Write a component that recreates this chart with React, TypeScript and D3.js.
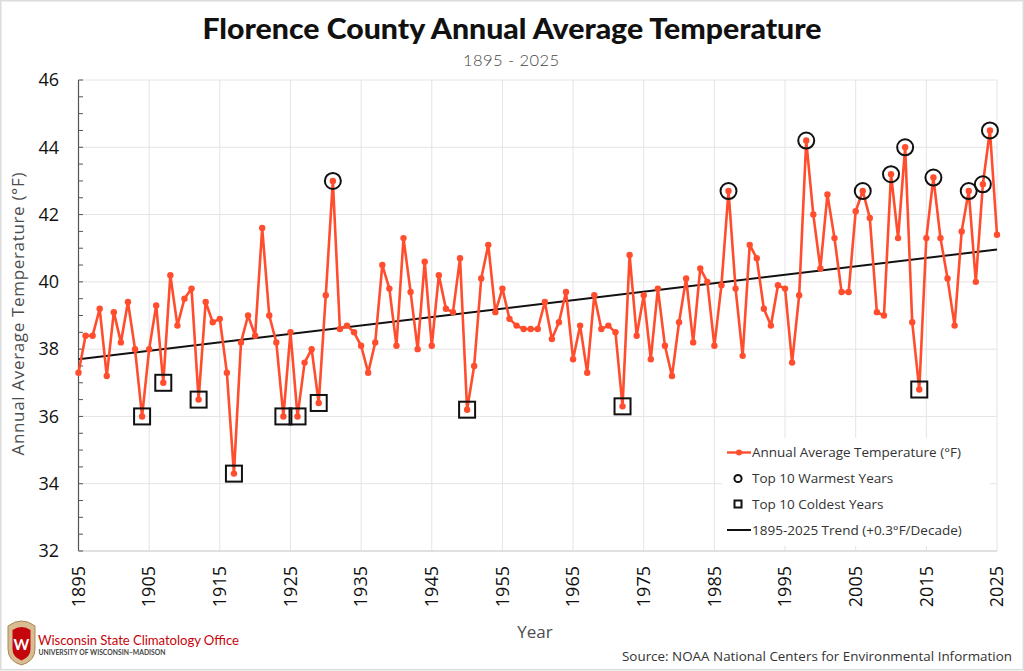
import React, { useEffect } from "react";
import * as d3 from "d3";

const startYear = 1895;
const temps: number[] = [
  37.3, 38.4, 38.4, 39.2, 37.2, 39.1, 38.2, 39.4, 38.0, 36.0,
  38.0, 39.3, 37.0, 40.2, 38.7, 39.5, 39.8, 36.5, 39.4, 38.8,
  38.9, 37.3, 34.3, 38.2, 39.0, 38.4, 41.6, 39.0, 38.2, 36.0,
  38.5, 36.0, 37.6, 38.0, 36.4, 39.6, 43.0, 38.6, 38.7, 38.5,
  38.1, 37.3, 38.2, 40.5, 39.8, 38.1, 41.3, 39.7, 38.0, 40.6,
  38.1, 40.2, 39.2, 39.1, 40.7, 36.2, 37.5, 40.1, 41.1, 39.1,
  39.8, 38.9, 38.7, 38.6, 38.6, 38.6, 39.4, 38.3, 38.8, 39.7,
  37.7, 38.7, 37.3, 39.6, 38.6, 38.7, 38.5, 36.3, 40.8, 38.4,
  39.6, 37.7, 39.8, 38.1, 37.2, 38.8, 40.1, 38.2, 40.4, 40.0,
  38.1, 39.9, 42.7, 39.8, 37.8, 41.1, 40.7, 39.2, 38.7, 39.9,
  39.8, 37.6, 39.6, 44.2, 42.0, 40.4, 42.6, 41.3, 39.7, 39.7,
  42.1, 42.7, 41.9, 39.1, 39.0, 43.2, 41.3, 44.0, 38.8, 36.8,
  41.3, 43.1, 41.3, 40.1, 38.7, 41.5, 42.7, 40.0, 42.9, 44.5,
  41.4,
];
const warmestYears = [1931, 1987, 1998, 2006, 2010, 2012, 2016, 2021, 2023, 2024];
const coldestYears = [1904, 1907, 1912, 1917, 1924, 1926, 1929, 1950, 1972, 2014];
const xTicks = [1895, 1905, 1915, 1925, 1935, 1945, 1955, 1965, 1975, 1985, 1995, 2005, 2015, 2025];
const yTicks = [32, 34, 36, 38, 40, 42, 44, 46];
const legendLabels = [
  "Annual Average Temperature (°F)",
  "Top 10 Warmest Years",
  "Top 10 Coldest Years",
  "1895-2025 Trend (+0.3°F/Decade)",
];

const W = 1024;
const H = 671;
const LINE = "#ff4d2e";
const FONT = "'Open Sans', 'Noto Sans', sans-serif";

export default function App() {
  useEffect(() => {
    document.body.style.margin = "0";
  }, []);

  const data = temps.map((t, i) => ({ year: startYear + i, t }));
  const x = d3.scaleLinear().domain([1895, 2025]).range([78.5, 997]);
  const y = d3.scaleLinear().domain([32, 46]).range([551, 80]);

  // linear regression
  const mx = d3.mean(data, (d) => d.year)!;
  const my = d3.mean(data, (d) => d.t)!;
  const sxy = d3.sum(data, (d) => (d.year - mx) * (d.t - my));
  const sxx = d3.sum(data, (d) => (d.year - mx) ** 2);
  const slope = sxy / sxx;
  const icpt = my - slope * mx;
  const trend = [1895, 2025].map((yr) => ({ year: yr, t: icpt + slope * yr }));

  const line = d3
    .line<{ year: number; t: number }>()
    .x((d) => x(d.year))
    .y((d) => y(d.t));

  const minorTicks = d3.range(32, 46.01, 0.5);
  const byYear = new Map(data.map((d) => [d.year, d.t]));

  const lx = 727;
  const ly = [452.5, 478.5, 504, 530];

  return (
    <svg width={W} height={H} style={{ display: "block", background: "#fff" }} fontFamily={FONT}>
      <rect x={0.75} y={0.75} width={W - 1.5} height={H - 2} fill="#fff" stroke="#dcdcdc" strokeWidth={1.5} />
      {/* Title */}
      <text x={512} y={39} textAnchor="middle" fontSize={29} fontWeight={900} fill="#111" fontFamily="Lato, 'Open Sans', sans-serif" textLength={619} lengthAdjust="spacingAndGlyphs">
        Florence County Annual Average Temperature
      </text>
      <text x={511} y={66} textAnchor="middle" fontSize={16.5} fontWeight={300} fill="#444" fontFamily="Lato, sans-serif" textLength={96}>
        1895 - 2025
      </text>

      {/* grid */}
      {yTicks.map((v) => (
        <line key={"gy" + v} x1={x(1895)} x2={x(2025)} y1={y(v)} y2={y(v)} stroke="#e4e4e4" strokeWidth={1} />
      ))}
      {xTicks.map((v) => (
        <line key={"gx" + v} x1={x(v)} x2={x(v)} y1={y(32)} y2={y(46)} stroke="#e4e4e4" strokeWidth={1} />
      ))}

      {/* axes */}
      <line x1={x(1895)} x2={x(1895)} y1={y(32)} y2={y(46)} stroke="#555" strokeWidth={1.2} />
      <line x1={x(1895)} x2={x(2025)} y1={y(32)} y2={y(32)} stroke="#cfcfcf" strokeWidth={1} />
      {minorTicks.map((v) => (
        <line key={"mt" + v} x1={x(1895)} x2={x(1895) + 4.5} y1={y(v)} y2={y(v)} stroke="#555" strokeWidth={1} />
      ))}
      {yTicks.map((v) => (
        <text key={"yl" + v} x={59} y={y(v)} dy="0.35em" textAnchor="end" fontSize={18} fill="#111">
          {v}
        </text>
      ))}
      {xTicks.map((v) => (
        <text
          key={"xl" + v}
          transform={`translate(${x(v)},566) rotate(-90)`}
          textAnchor="end"
          dy="0.35em"
          fontSize={18}
          fill="#111"
        >
          {v}
        </text>
      ))}
      <text transform={`translate(24,314) rotate(-90)`} textAnchor="middle" fontSize={17} fill="#4d4d4d" fontWeight={400} textLength={283}>
        Annual Average Temperature (°F)
      </text>
      <text x={535} y={638} textAnchor="middle" fontSize={17} fill="#4d4d4d">
        Year
      </text>

      {/* trend */}
      <path d={line(trend)!} fill="none" stroke="#111" strokeWidth={2} />
      {/* series */}
      <path d={line(data)!} fill="none" stroke={LINE} strokeWidth={2.6} strokeLinejoin="round" />
      {data.map((d) => (
        <circle key={"p" + d.year} cx={x(d.year)} cy={y(d.t)} r={3.2} fill={LINE} />
      ))}
      {warmestYears.map((yr) => (
        <circle key={"w" + yr} cx={x(yr)} cy={y(byYear.get(yr)!)} r={8} fill="none" stroke="#111" strokeWidth={2} />
      ))}
      {coldestYears.map((yr) => (
        <rect key={"c" + yr} x={x(yr) - 8} y={y(byYear.get(yr)!) - 8} width={16} height={16} fill="none" stroke="#111" strokeWidth={2} />
      ))}

      {/* legend */}
      <rect x={722} y={438} width={268} height={108} fill="#fff" />
      <line x1={lx} x2={lx + 24} y1={ly[0]} y2={ly[0]} stroke={LINE} strokeWidth={2.4} />
      <circle cx={lx + 12} cy={ly[0]} r={3} fill={LINE} />
      <circle cx={lx + 11} cy={ly[1]} r={3.6} fill="none" stroke="#111" strokeWidth={2} />
      <rect x={lx + 7.5} y={ly[2] - 3.5} width={7} height={7} fill="none" stroke="#111" strokeWidth={2} />
      <line x1={lx} x2={lx + 24} y1={ly[3]} y2={ly[3]} stroke="#111" strokeWidth={2} />
      {legendLabels.map((s, i) => (
        <text key={s} x={752} y={ly[i]} dy="0.35em" fontSize={13.5} fill="#333">
          {s}
        </text>
      ))}

      {/* logo */}
      <g transform="translate(7,619)">
        <path d="M1,7 Q14.5,-3 28,7 L28,30 Q28,42 14.5,46 Q1,42 1,30 Z" fill="#d9bd92" stroke="#a88757" strokeWidth={1} />
        <path d="M5.5,11 Q14.5,5 23.5,11 L23.5,30 Q23.5,38 14.5,41.5 Q5.5,38 5.5,30 Z" fill="#c5050c" />
        <text x={14.5} y={31} textAnchor="middle" fontSize={15} fontWeight={700} fill="#fff" fontFamily="Lato, sans-serif">
          W
        </text>
      </g>
      <text x={38} y={645} fontSize={13.2} fill="#c5050c" fontFamily="Lato, sans-serif" textLength={201}>
        Wisconsin State Climatology Office
      </text>
      <text x={38.5} y={655} fontSize={7.6} fill="#444" fontFamily="Lato, sans-serif" fontWeight={700} textLength={127} lengthAdjust="spacingAndGlyphs">
        UNIVERSITY OF WISCONSIN–MADISON
      </text>
      <text x={1012} y={661} textAnchor="end" fontSize={13.4} fill="#333" textLength={390}>
        Source: NOAA National Centers for Environmental Information
      </text>
    </svg>
  );
}
